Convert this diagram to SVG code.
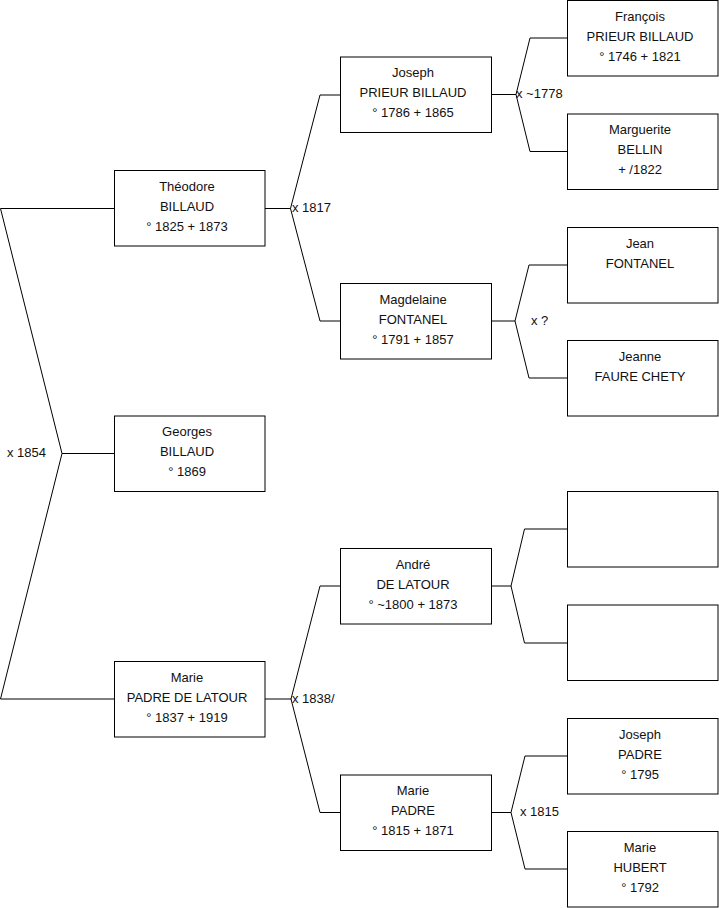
<svg xmlns="http://www.w3.org/2000/svg" width="719" height="908" viewBox="0 0 719 908">
<style>
.box{fill:#fff;stroke:#000;stroke-width:1}
.con{fill:none;stroke:#000;stroke-width:1}
text{font-family:"Liberation Sans",Arial,sans-serif;font-size:13px;fill:#111}
.c{text-anchor:middle}
</style>
<rect width="719" height="908" fill="#fff"/>
<g id="connectors">
<path class="con" d="M114,208.5 H0.5 L62,453.5 L0.5,699 H114 M62,453.5 H114"/>
<path class="con" d="M265,208.5 H290.5 M340.5,95 H320 L290.5,208.5 L320,321 H340.5"/>
<path class="con" d="M265,699 H291 M340.5,586 H320 L291,699 L320,812.5 H340.5"/>
<path class="con" d="M491.5,94.5 H516 M567.5,38 H530 L516,94.5 L530,151.5 H567.5"/>
<path class="con" d="M491.5,321 H515 M567.5,265 H529 L515,321 L529,378 H567.5"/>
<path class="con" d="M491.5,586 H511 M567.5,529 H524.5 L511,586 L524.5,643 H567.5"/>
<path class="con" d="M491.5,812.5 H511 M567.5,756 H525 L511,812.5 L525,869 H567.5"/>
<text x="7" y="456.5">x 1854</text>
<text x="292" y="211.5">x 1817</text>
<text x="292" y="702.5">x 1838/</text>
<text x="516" y="97.5">x ~1778</text>
<text x="531" y="324.5">x ?</text>
<text x="520" y="815.5">x 1815</text>
</g>
<g id="theodore"><rect class="box" x="114.5" y="170.5" width="150.5" height="75.5"/>
<text class="c" x="187" y="190.5">Théodore</text><text class="c" x="187" y="210.5">BILLAUD</text><text class="c" x="187" y="230.5">° 1825 + 1873</text></g>
<g id="georges"><rect class="box" x="114.5" y="416" width="150.5" height="75.5"/>
<text class="c" x="187" y="436">Georges</text><text class="c" x="187" y="456">BILLAUD</text><text class="c" x="187" y="476">° 1869</text></g>
<g id="marie-padre-de-latour"><rect class="box" x="114.5" y="661.5" width="150.5" height="75.5"/>
<text class="c" x="187" y="681.5">Marie</text><text class="c" x="187" y="701.5">PADRE DE LATOUR</text><text class="c" x="187" y="721.5">° 1837 + 1919</text></g>
<g id="joseph-prieur"><rect class="box" x="340.5" y="57" width="151" height="75.5"/>
<text class="c" x="413" y="77">Joseph</text><text class="c" x="413" y="97">PRIEUR BILLAUD</text><text class="c" x="413" y="117">° 1786 + 1865</text></g>
<g id="magdelaine"><rect class="box" x="340.5" y="283.5" width="151" height="75.5"/>
<text class="c" x="413" y="303.5">Magdelaine</text><text class="c" x="413" y="323.5">FONTANEL</text><text class="c" x="413" y="343.5">° 1791 + 1857</text></g>
<g id="andre"><rect class="box" x="340.5" y="548.5" width="151" height="75.5"/>
<text class="c" x="413" y="568.5">André</text><text class="c" x="413" y="588.5">DE LATOUR</text><text class="c" x="413" y="608.5">° ~1800 + 1873</text></g>
<g id="marie-padre"><rect class="box" x="340.5" y="775" width="151" height="75.5"/>
<text class="c" x="413" y="795">Marie</text><text class="c" x="413" y="815">PADRE</text><text class="c" x="413" y="835">° 1815 + 1871</text></g>
<g id="francois"><rect class="box" x="567.5" y="0.5" width="150.5" height="75.5"/>
<text class="c" x="640" y="20.5">François</text><text class="c" x="640" y="40.5">PRIEUR BILLAUD</text><text class="c" x="640" y="60.5">° 1746 + 1821</text></g>
<g id="marguerite"><rect class="box" x="567.5" y="114" width="150.5" height="75.5"/>
<text class="c" x="640" y="134">Marguerite</text><text class="c" x="640" y="154">BELLIN</text><text class="c" x="640" y="174">+ /1822</text></g>
<g id="jean"><rect class="box" x="567.5" y="227.5" width="150.5" height="75.5"/>
<text class="c" x="640" y="247.5">Jean</text><text class="c" x="640" y="267.5">FONTANEL</text></g>
<g id="jeanne"><rect class="box" x="567.5" y="340.5" width="150.5" height="75.5"/>
<text class="c" x="640" y="360.5">Jeanne</text><text class="c" x="640" y="380.5">FAURE CHETY</text></g>
<g id="unknown-1"><rect class="box" x="567.5" y="491.5" width="150.5" height="75.5"/></g>
<g id="unknown-2"><rect class="box" x="567.5" y="605" width="150.5" height="75.5"/></g>
<g id="joseph-padre"><rect class="box" x="567.5" y="718.5" width="150.5" height="75.5"/>
<text class="c" x="640" y="738.5">Joseph</text><text class="c" x="640" y="758.5">PADRE</text><text class="c" x="640" y="778.5">° 1795</text></g>
<g id="marie-hubert"><rect class="box" x="567.5" y="831.5" width="150.5" height="75.5"/>
<text class="c" x="640" y="851.5">Marie</text><text class="c" x="640" y="871.5">HUBERT</text><text class="c" x="640" y="891.5">° 1792</text></g>
</svg>
